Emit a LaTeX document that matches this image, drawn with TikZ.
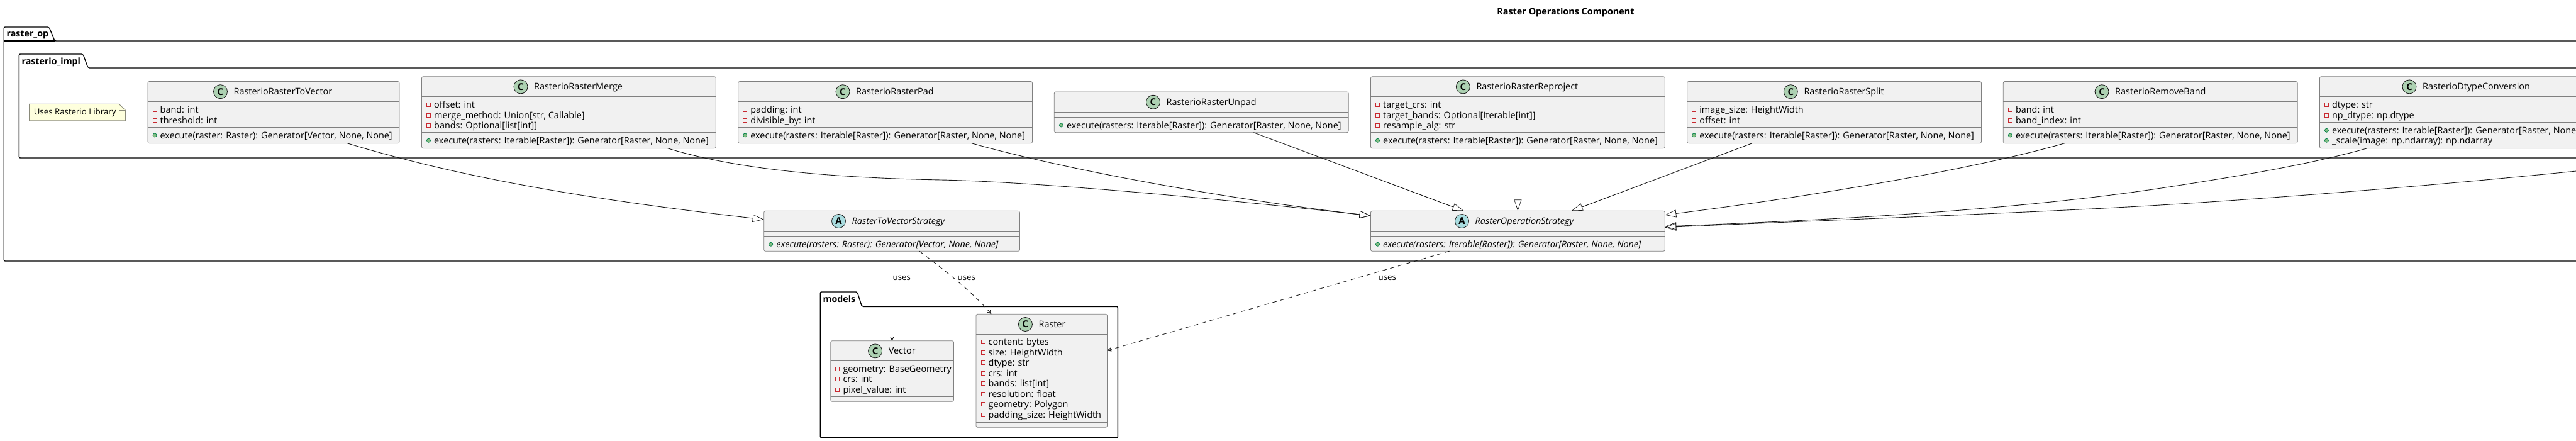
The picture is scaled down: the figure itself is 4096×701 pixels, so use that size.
\documentclass[tikz,border=0pt]{standalone}
\usepackage{fontspec}
\setmainfont{Open Sans}
\usetikzlibrary{arrows.meta,calc}
\definecolor{boxfill}{HTML}{F1F1F1}
\definecolor{boxline}{HTML}{808080}
\definecolor{ink}{HTML}{181818}
\definecolor{circC}{HTML}{ADD1B2}
\definecolor{circA}{HTML}{A9DCDF}
\definecolor{notefill}{HTML}{FEFFDD}
\definecolor{noteline}{HTML}{8A8A7A}
\definecolor{attrred}{HTML}{C82930}
\definecolor{methfill}{HTML}{84BE84}
\definecolor{methline}{HTML}{038048}
\newcommand\fsm{\fontsize{14.4}{16}\selectfont}
\newcommand\fss{\fontsize{13.3}{15}\selectfont}
\tikzset{
  x=1pt,y=-1pt,
  classbox/.style={draw=boxline,line width=0.8pt,fill=boxfill,rounded corners=2.5pt,anchor=north west,inner sep=0pt,outer sep=0pt},
  divider/.style={draw=boxline,line width=0.8pt},
  badge/.style={circle,draw=ink,line width=0.8pt,minimum size=22pt,inner sep=0pt,font=\fontsize{15}{15}\selectfont\bfseries,text=black},
  classname/.style={anchor=base west,inner sep=0pt,font=\fsm},
  member/.style={anchor=base west,inner sep=0pt,font=\fsm},
  attricon/.style={draw=attrred,line width=0.8pt,fill=none,minimum size=6pt,inner sep=0pt,rectangle},
  methicon/.style={draw=methline,line width=0.7pt,fill=methfill,circle,minimum size=6pt,inner sep=0pt},
  pkg/.style={draw=black,line width=1.4pt,rounded corners=2pt,fill=white},
  pkgname/.style={anchor=base west,inner sep=0pt,font=\fontsize{14.2}{16}\selectfont\bfseries},
  gen/.style={draw=ink,line width=0.9pt,-{Triangle[open,length=18pt,width=12pt,line width=0.7pt]}},
  uses/.style={draw=ink,line width=0.9pt,dash pattern=on 7pt off 6pt,-{Stealth[length=11pt,width=11pt,inset=8pt]}},
  usestext/.style={anchor=base west,inner sep=0pt,font=\fss},
}
% name, (x,y), w, h, header height, second divider offset, badge x, letter, title
\newcommand\umlclass[9]{%
  \node[classbox,minimum width=#3pt,minimum height=#4pt] (#1) at (#2) {};
  \draw[divider] ([yshift=-#5pt]#1.north west) -- ([yshift=-#5pt]#1.north east);
  \draw[divider] ([yshift=-#6pt]#1.north west) -- ([yshift=-#6pt]#1.north east);
  \path (#1.north west) ++(0,16.2) coordinate (#1-by);
  \node[badge,fill=circ#8] (#1-badge) at (#7,0 |- #1-by) {#8};
  \node[classname] (#1-title) at ([xshift=21pt,yshift=-5pt]#1-badge.center) {#9};
}
\newcommand\attr[3]{%
  \node[attricon] (#1-a#2) at ([xshift=11pt,yshift=-#2pt]#1.north west) {};
  \node[member] (#1-at#2) at ([xshift=19.5pt,yshift=-#2pt-5pt]#1.north west) {#3};
}
\newcommand\meth[3]{%
  \node[methicon] (#1-m#2) at ([xshift=11pt,yshift=-#2pt]#1.north west) {};
  \node[member] (#1-mt#2) at ([xshift=19.5pt,yshift=-#2pt-5pt]#1.north west) {#3};
}
\begin{document}
\begin{tikzpicture}
\path[use as bounding box,clip] (0,0) rectangle (4096,701);
\fill[white] (0,0) rectangle (4096,701);

\node[inner sep=0pt,anchor=base,font=\fontsize{14.4}{16}\selectfont\bfseries] (title) at (2489.5,24) {Raster Operations Component};

% packages
\draw[pkg] (6.2,65) -- (6.2,43) -- (78,43) -- (87,65) -- (4200,65) -- (4200,415) -- (6.2,415) -- cycle;
\draw[draw=black,line width=1.4pt] (6.2,65) -- (87,65);
\node[pkgname] (pkgop) at (10.5,59) {raster\_op};
\draw[pkg] (30.3,108) -- (30.3,86) -- (132,86) -- (140,108) -- (4200,108) -- (4200,251) -- (30.3,251) -- cycle;
\node[pkgname] (pkgimpl) at (34.5,102) {rasterio\_impl};
\draw[pkg] (1304.3,487.3) -- (1304.3,464) -- (1363,464) -- (1370.5,487.3) -- (1777.4,487.3) -- (1777.4,695.7) -- (1304.3,695.7) -- cycle;
\node[pkgname] (pkgmodels) at (1308.5,480) {models};

% note
\draw[draw=noteline,line width=0.8pt,fill=notefill] (46.4,165.3) -- (189.3,165.3) -- (199.5,175.3) -- (199.5,191.7) -- (46.4,191.7) -- cycle;
\draw[draw=noteline,line width=0.8pt] (189.3,165.3) -- (189.3,175.3) -- (199.5,175.3);
\node[anchor=base west,inner sep=0pt,font=\fss] (note) at (53.6,182.5) {Uses Rasterio Library};

% classes
\umlclass{tv}{235,129.5}{400}{98.2}{31.7}{72.7}{350.5}{C}{RasterioRasterToVector}
\attr{tv}{44.5}{band: int}
\attr{tv}{61.5}{threshold: int}
\meth{tv}{85.5}{execute(raster: Raster): Generator[Vector, None, None]}

\umlclass{merge}{670.5,121.7}{467.8}{114}{31.7}{88.6}{828}{C}{RasterioRasterMerge}
\attr{merge}{44.3}{offset: int}
\attr{merge}{61.3}{merge\_method: Union[str, Callable]}
\attr{merge}{77.8}{bands: Optional[list[int]]}
\meth{merge}{101.6}{execute(rasters: Iterable[Raster]): Generator[Raster, None, None]}

\umlclass{pad}{1173.7,129.5}{467.8}{98.2}{31.7}{72.7}{1340}{C}{RasterioRasterPad}
\attr{pad}{44.5}{padding: int}
\attr{pad}{61.5}{divisible\_by: int}
\meth{pad}{85.5}{execute(rasters: Iterable[Raster]): Generator[Raster, None, None]}

\umlclass{unpad}{1676.3,146}{467.8}{64.7}{32.3}{40.3}{1833.5}{C}{RasterioRasterUnpad}
\meth{unpad}{53}{execute(rasters: Iterable[Raster]): Generator[Raster, None, None]}

\umlclass{reproj}{2179.5,121.7}{467.8}{114}{31.7}{88.6}{2326.3}{C}{RasterioRasterReproject}
\attr{reproj}{44.3}{target\_crs: int}
\attr{reproj}{61.3}{target\_bands: Optional[Iterable[int]]}
\attr{reproj}{77.8}{resample\_alg: str}
\meth{reproj}{101.6}{execute(rasters: Iterable[Raster]): Generator[Raster, None, None]}

\umlclass{split}{2682.6,129.5}{467.8}{98.2}{31.7}{72.7}{2847.3}{C}{RasterioRasterSplit}
\attr{split}{44.5}{image\_size: HeightWidth}
\attr{split}{61.5}{offset: int}
\meth{split}{85.5}{execute(rasters: Iterable[Raster]): Generator[Raster, None, None]}

\umlclass{rmband}{3185.3,129.5}{467.8}{98.2}{31.7}{72.7}{3342}{C}{RasterioRemoveBand}
\attr{rmband}{44.5}{band: int}
\attr{rmband}{61.5}{band\_index: int}
\meth{rmband}{85.5}{execute(rasters: Iterable[Raster]): Generator[Raster, None, None]}

\umlclass{dtype}{3688.4,121.7}{467.8}{114}{31.7}{72.6}{3831}{C}{RasterioDtypeConversion}
\attr{dtype}{44.3}{dtype: str}
\attr{dtype}{61.3}{np\_dtype: np.dtype}
\meth{dtype}{85.6}{execute(rasters: Iterable[Raster]): Generator[Raster, None, None]}
\meth{dtype}{101.6}{\_scale(image: np.ndarray): np.ndarray}

\umlclass{tvs}{1214.7,335.3}{406.7}{64}{32}{40}{1333.5}{A}{\itshape RasterToVectorStrategy}
\meth{tvs}{53}{\itshape execute(rasters: Raster): Generator[Vector, None, None]}

\umlclass{ops}{2179.5,335.3}{467.8}{64}{32}{40}{2324.5}{A}{\itshape RasterOperationStrategy}
\meth{ops}{53}{\itshape execute(rasters: Iterable[Raster]): Generator[Raster, None, None]}

\umlclass{vector}{1320.8,541.7}{195.6}{96.6}{32}{88.6}{1391.6}{C}{Vector}
\attr{vector}{44.3}{geometry: BaseGeometry}
\attr{vector}{60.8}{crs: int}
\attr{vector}{77.3}{pixel\_value: int}

\umlclass{raster}{1552,499.3}{208.5}{180}{32}{172.4}{1630.4}{C}{Raster}
\attr{raster}{44.5}{content: bytes}
\attr{raster}{61}{size: HeightWidth}
\attr{raster}{77.5}{dtype: str}
\attr{raster}{94}{crs: int}
\attr{raster}{110.5}{bands: list[int]}
\attr{raster}{127}{resolution: float}
\attr{raster}{143.5}{geometry: Polygon}
\attr{raster}{160}{padding\_size: HeightWidth}

% connectors: generalisations
\coordinate (offright) at (4096,272);
\draw[gen] ([xshift=317pt]tv.south west) .. controls (752,288) and (965,320) .. ([yshift=-13.7pt]tvs.north west);
\draw[gen] ([xshift=391pt]merge.south west) .. controls (1180,272) and (1342,283) .. (1496,286) .. controls (1650,289) and (1950,317) .. ([yshift=-7.7pt]ops.north west);
\draw[gen] ([xshift=371pt]pad.south west) .. controls (1700,271) and (1950,316) .. ([yshift=-7.7pt]ops.north west);
\draw[gen] ([xshift=317pt]unpad.south west) -- ([xshift=148pt]ops.north west);
\draw[gen] (reproj.south -| ops.north) -- (ops.north);
\draw[gen] ([xshift=103.4pt]split.south west) -- ([xshift=-148.6pt]ops.north east);
\draw[gen] ([xshift=97.7pt]rmband.south west) .. controls (3120,274) and (2850,316) .. ([yshift=-6.4pt]ops.north east);
\draw[gen] ([xshift=75.6pt]dtype.south west) .. controls (3670,262) and (3560,280) .. (3440,298.5) .. controls (3200,335) and (2900,350) .. ([yshift=-24.7pt]ops.north east);
\draw[gen] (offright) .. controls (3850,297) and (3600,316) .. (3440,325.7) .. controls (3240,338) and (2900,350) .. ([yshift=-26.2pt]ops.north east);

% connectors: uses
\draw[uses] ([xshift=203.7pt]tvs.south west) -- (vector.north -| 1418.4,0);
\draw[uses] ([xshift=247.3pt]tvs.south west) .. controls (1500,428) and (1545,463) .. ([xshift=24.4pt]raster.north west);
\draw[uses] ([xshift=125pt]ops.south west) -- ([yshift=-58pt]raster.north east);
\node[usestext] (u1) at (1419.5,445) {uses};
\node[usestext] (u2) at (1522.5,445) {uses};
\node[usestext] (u3) at (2191.5,445) {uses};
\end{tikzpicture}
\end{document}
